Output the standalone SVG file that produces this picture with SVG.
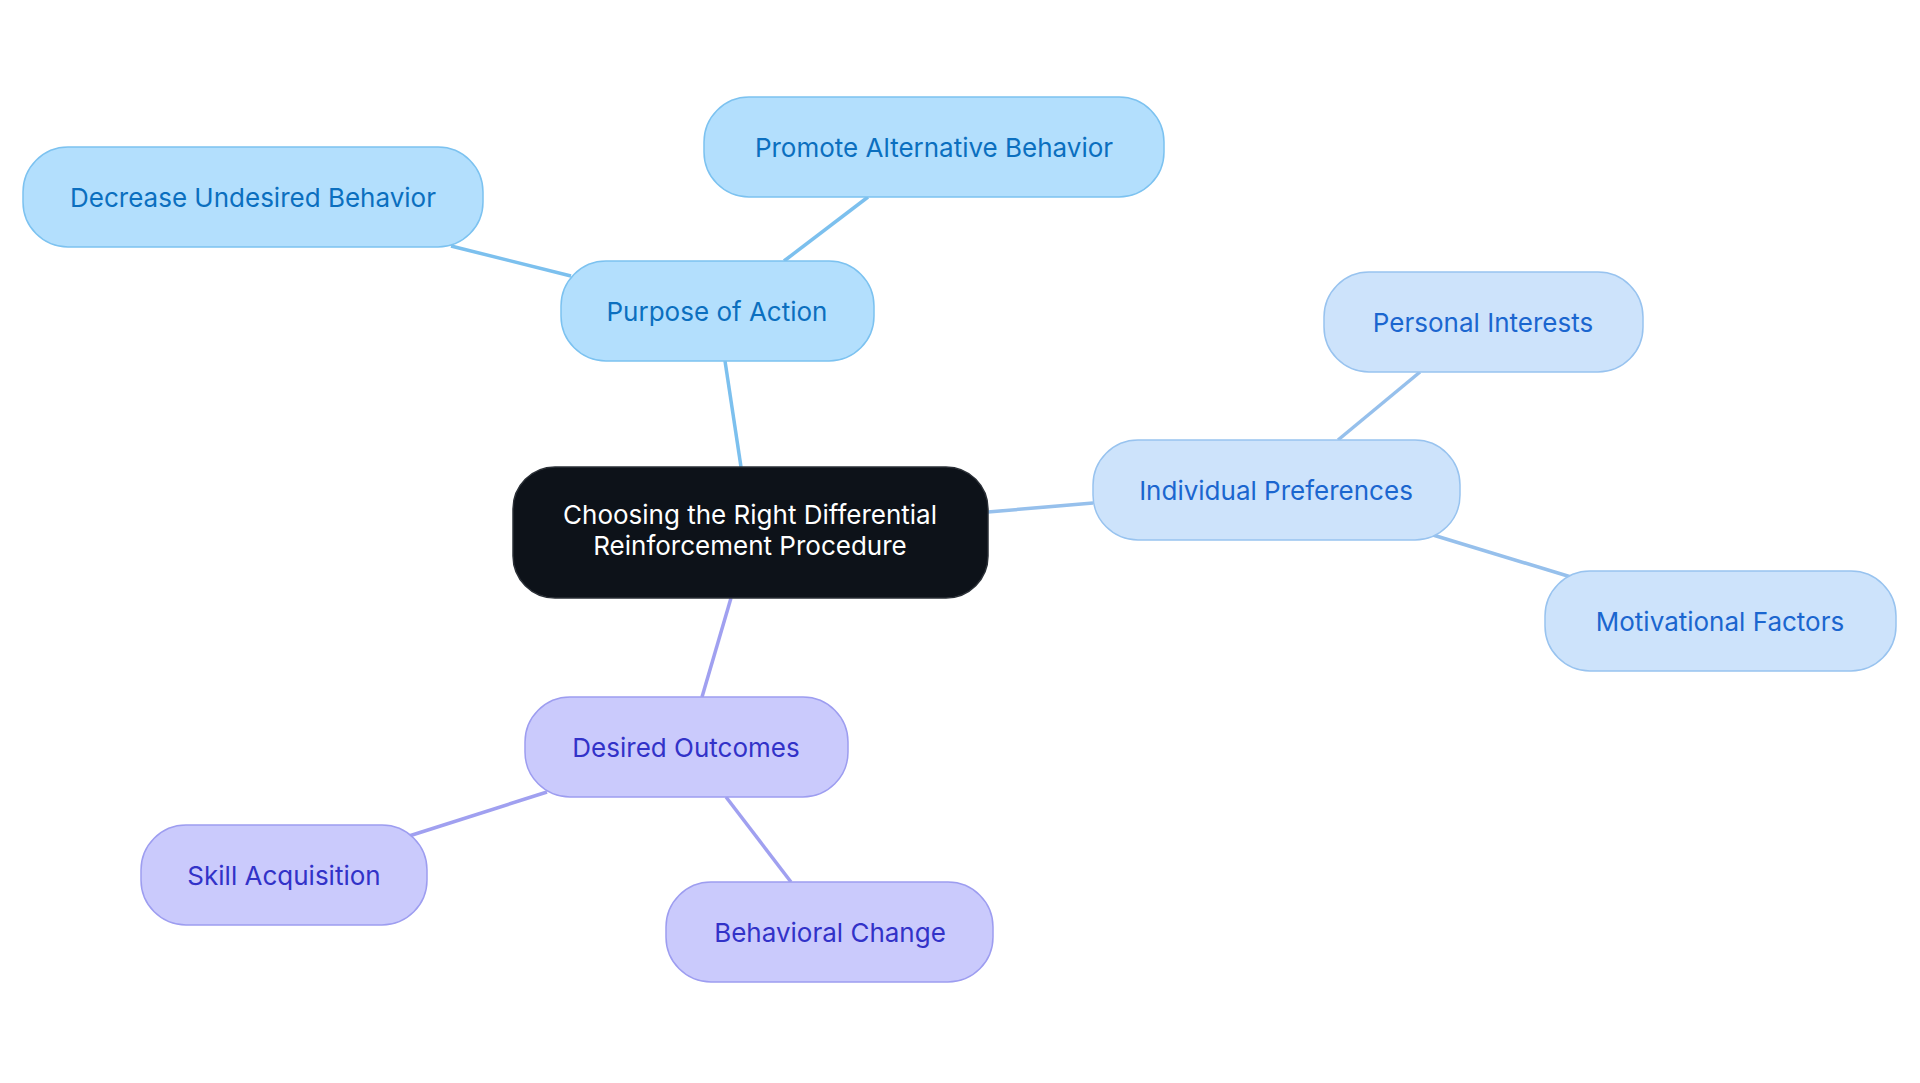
<svg xmlns="http://www.w3.org/2000/svg" width="1920" height="1083" viewBox="0 0 1920 1083">
<style>
text{font-family:Inter,"Noto Sans",sans-serif;font-size:26px;text-anchor:middle;dominant-baseline:central}
.b rect{fill:#b3dffd;stroke:#7cc2f0;stroke-width:1.5}.b text{fill:#0b6fbf}
.p rect{fill:#cde3fb;stroke:#98c3ef;stroke-width:1.5}.p text{fill:#1b66cf}
.v rect{fill:#cacafc;stroke:#9d9df0;stroke-width:1.5}.v text{fill:#3232c8}
.e line{stroke-width:3.5}
</style>
<rect width="1920" height="1083" fill="#fff"/>
<g id="connectors" class="e">
<line x1="741" y1="467" x2="725" y2="361" stroke="#7cc0ee"/>
<line x1="784" y1="261" x2="868" y2="197" stroke="#7cc0ee"/>
<line x1="571" y1="276" x2="451" y2="246" stroke="#7cc0ee"/>
<line x1="988" y1="512" x2="1093" y2="503" stroke="#96c0ec"/>
<line x1="1338" y1="440" x2="1420" y2="372" stroke="#96c0ec"/>
<line x1="1433" y1="535" x2="1571" y2="577" stroke="#96c0ec"/>
<line x1="731" y1="598" x2="702" y2="697" stroke="#a0a0f0"/>
<line x1="547" y1="792" x2="409" y2="836" stroke="#a0a0f0"/>
<line x1="726" y1="797" x2="791" y2="882" stroke="#a0a0f0"/>
</g>
<g id="center"><rect x="513" y="467" width="475" height="131" rx="42" fill="#0d1219" stroke="#2a2f36" stroke-width="1.5"/>
<text x="750" y="514" fill="#fff">Choosing the Right Differential</text><text x="750" y="545" fill="#fff">Reinforcement Procedure</text></g>
<g id="purpose" class="b"><rect x="561" y="261" width="313" height="100" rx="45"/><text x="717" y="311">Purpose of Action</text></g>
<g id="promote" class="b"><rect x="704" y="97" width="460" height="100" rx="45"/><text x="934" y="147">Promote Alternative Behavior</text></g>
<g id="decrease" class="b"><rect x="23" y="147" width="460" height="100" rx="45"/><text x="253" y="197">Decrease Undesired Behavior</text></g>
<g id="indpref" class="p"><rect x="1093" y="440" width="367" height="100" rx="45"/><text x="1276" y="490">Individual Preferences</text></g>
<g id="personal" class="p"><rect x="1324" y="272" width="319" height="100" rx="45"/><text x="1483" y="322">Personal Interests</text></g>
<g id="motiv" class="p"><rect x="1545" y="571" width="351" height="100" rx="45"/><text x="1720" y="621">Motivational Factors</text></g>
<g id="desired" class="v"><rect x="525" y="697" width="323" height="100" rx="45"/><text x="686" y="747">Desired Outcomes</text></g>
<g id="skill" class="v"><rect x="141" y="825" width="286" height="100" rx="45"/><text x="284" y="875">Skill Acquisition</text></g>
<g id="behav" class="v"><rect x="666" y="882" width="327" height="100" rx="45"/><text x="830" y="932">Behavioral Change</text></g>
</svg>
